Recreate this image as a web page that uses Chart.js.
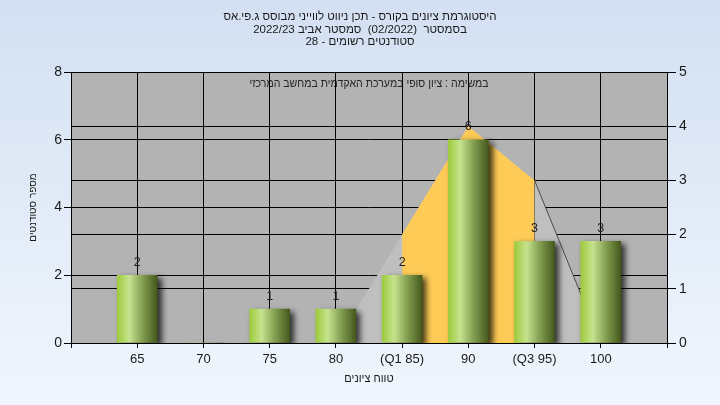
<!DOCTYPE html>
<html>
<head>
<meta charset="utf-8">
<script src="https://cdn.jsdelivr.net/npm/chart.js@4/dist/chart.umd.min.js"></script>
<style>
html,body{margin:0;padding:0;background:#e4edf8;}
#wrap{width:720px;height:405px;}
</style>
</head>
<body>
<div id="wrap"><canvas id="c" width="720" height="405" dir="rtl" style="direction:rtl"></canvas></div>
<script>
// ---- data ----
const categories = [65, 70, 75, 80, 85, 90, 95, 100];
const students = [2, 0, 1, 1, 2, 6, 3, 3];
const curveCats = [65, 70, 75, 80, 85, 90, 95, 100];
const curveValues = [0, 0, 0, 0, 2, 4, 3, 0];
const iqrCats = [85, 90, 95];
const iqrValues = [2, 4, 3];
const tickValues = [65, 70, 75, 80, 85, 90, 95, 100];
const tickLabels = ['65', '70', '75', '80', '(Q1 85)', '90', '(Q3 95)', '100'];
const leftTicks = [0, 2, 4, 6, 8];
const rightTicks = [0, 1, 2, 3, 4, 5];
const titleLines = [
  'היסטוגרמת ציונים בקורס - תכן ניווט לווייני מבוסס ג.פי.אס',
  'בסמסטר  (02/2022)  סמסטר אביב 2022/23',
  'סטודנטים רשומים - 28'
];
const innerTitle = 'במשימה : ציון סופי במערכת האקדמית במחשב המרכזי';
const yTitle = 'מספר סטודנטים';
const xTitle = 'טווח ציונים';

const FONT = "'Liberation Sans', Arial, sans-serif";

const barData = categories.map((c, i) => ({x: c, y: students[i]}));
const curveData = curveCats.map((c, i) => ({x: c, y: curveValues[i]}));
const iqrData = iqrCats.map((c, i) => ({x: c, y: iqrValues[i]}));

const bgPlugin = {
  id: 'bgPlugin',
  beforeDraw(chart) {
    const {ctx, chartArea: a, width, height} = chart;
    ctx.save();
    const g = ctx.createLinearGradient(0, 0, 0, height);
    g.addColorStop(0, '#d3e0f2');
    g.addColorStop(1, '#f0f6fd');
    ctx.fillStyle = g;
    ctx.fillRect(0, 0, width, height);
    ctx.fillStyle = '#b3b3b3';
    ctx.fillRect(a.left, a.top, a.right - a.left, a.bottom - a.top);
    ctx.direction = 'rtl';
    ctx.fillStyle = '#262626';
    ctx.font = '12px ' + FONT;
    ctx.textAlign = 'center';
    ctx.textBaseline = 'middle';
    ctx.translate((a.left + a.right) / 2, a.top + 12);
    ctx.scale(0.88, 1);
    ctx.fillText(innerTitle, 0, 0);
    ctx.restore();
  }
};

const shadowPlugin = {
  id: 'shadowPlugin',
  beforeDatasetDraw(chart, args) {
    if (args.meta.type !== 'bar') return;
    const ctx = chart.ctx;
    ctx.save();
    ctx.shadowColor = 'rgba(0,0,0,0.75)';
    ctx.shadowBlur = 6;
    ctx.shadowOffsetX = 4;
    ctx.shadowOffsetY = 3;
  },
  afterDatasetDraw(chart, args) {
    if (args.meta.type !== 'bar') return;
    chart.ctx.restore();
  }
};

const labelPlugin = {
  id: 'labelPlugin',
  afterDatasetsDraw(chart) {
    const meta = chart.getDatasetMeta(0);
    const ctx = chart.ctx;
    ctx.save();
    ctx.font = '12.5px ' + FONT;
    ctx.fillStyle = '#1e1e1e';
    ctx.textAlign = 'center';
    ctx.textBaseline = 'middle';
    meta.data.forEach((el, i) => {
      const v = students[i];
      if (!v) return;
      ctx.fillText(String(v), el.x, el.y - 13);
    });
    ctx.restore();
  }
};

function barGradient(c) {
  const chart = c.chart;
  if (!chart.chartArea || !c.raw) return '#9cc445';
  const x = chart.scales.x.getPixelForValue(c.raw.x);
  const g = chart.ctx.createLinearGradient(x - 20, 0, x + 20, 0);
  g.addColorStop(0, '#9ccb3b');
  g.addColorStop(0.3, '#c7e28f');
  g.addColorStop(0.6, '#88a556');
  g.addColorStop(1, '#45581c');
  return g;
}

new Chart(document.getElementById('c'), {
  data: {
    datasets: [
      {
        type: 'bar',
        data: barData,
        xAxisID: 'x',
        yAxisID: 'y',
        backgroundColor: barGradient,
        borderWidth: 0,
        barThickness: 40,
        order: 0
      },
      {
        type: 'line',
        data: iqrData,
        xAxisID: 'x',
        yAxisID: 'y2',
        fill: 'origin',
        backgroundColor: '#fecb56',
        borderWidth: 0,
        borderColor: 'rgba(0,0,0,0)',
        pointRadius: 0,
        tension: 0,
        order: 1
      },
      {
        type: 'line',
        data: curveData,
        xAxisID: 'x',
        yAxisID: 'y2',
        fill: 'origin',
        backgroundColor: '#bfbfbf',
        borderWidth: 1,
        borderColor: 'rgba(0,0,0,0)',
        segment: {
          borderColor: s => (s.p0.parsed.x >= 95 ? '#4a4a4a' : 'rgba(0,0,0,0)')
        },
        pointRadius: 0,
        tension: 0,
        order: 2
      }
    ]
  },
  options: {
    responsive: false,
    animation: false,
    devicePixelRatio: 1,
    layout: {padding: 0},
    plugins: {
      legend: {display: false},
      tooltip: {enabled: false},
      title: {
        display: true,
        text: titleLines,
        color: '#1a1a1a',
        font: {family: FONT, size: 11.5, weight: 'normal', lineHeight: '12.5px'},
        padding: {top: 11, bottom: 23.5}
      }
    },
    scales: {
      x: {
        type: 'linear',
        position: 'bottom',
        min: 60,
        max: 105,
        offset: false,
        afterBuildTicks(s) { s.ticks = [60].concat(tickValues, [105]).map(v => ({value: v})); },
        afterFit(s) { s.height = 62; },
        ticks: {
          autoSkip: false,
          maxRotation: 0,
          padding: 4,
          color: '#1a1a1a',
          font: {family: FONT, size: 13},
          callback: v => { const i = tickValues.indexOf(v); return i >= 0 ? tickLabels[i] : ''; }
        },
        grid: {color: '#000', lineWidth: 1, tickLength: 5, drawTicks: true, offset: false},
        border: {color: '#000', width: 1},
        title: {display: true, text: xTitle, color: '#1a1a1a', font: {family: FONT, size: 11}, padding: {top: 4, bottom: 19}}
      },
      y: {
        type: 'linear',
        position: 'left',
        min: 0,
        max: 8,
        afterBuildTicks(s) { s.ticks = leftTicks.map(v => ({value: v})); },
        afterFit(s) { s.width = 71; },
        ticks: {color: '#1a1a1a', padding: 2, font: {family: FONT, size: 14}},
        grid: {color: '#000', lineWidth: 1, tickLength: 7},
        border: {color: '#000', width: 1},
        title: {display: true, text: yTitle, color: '#1a1a1a', font: {family: FONT, size: 10}, padding: {top: 27, bottom: 4}}
      },
      y2: {
        type: 'linear',
        position: 'right',
        min: 0,
        max: 5,
        afterBuildTicks(s) { s.ticks = rightTicks.map(v => ({value: v})); },
        afterFit(s) { s.width = 53; },
        ticks: {color: '#1a1a1a', padding: 3, font: {family: FONT, size: 14}},
        grid: {color: '#000', lineWidth: 1, tickLength: 9, drawOnChartArea: true},
        border: {color: '#000', width: 1}
      }
    }
  },
  plugins: [bgPlugin, shadowPlugin, labelPlugin]
});
</script>
</body>
</html>
